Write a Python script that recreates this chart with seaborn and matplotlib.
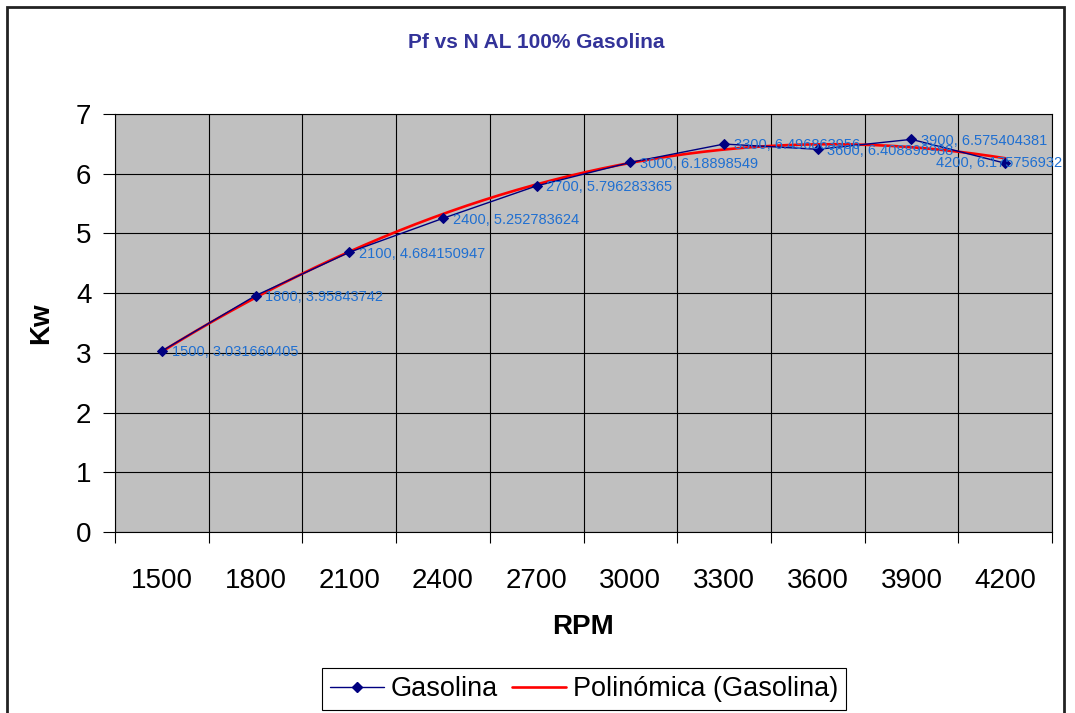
import numpy as np
import pandas as pd
import matplotlib
matplotlib.use("Agg")
import matplotlib.pyplot as plt
import matplotlib.patches as mpatches
from matplotlib.lines import Line2D
import seaborn as sns

# ---- data ----
rpm = [1500, 1800, 2100, 2400, 2700, 3000, 3300, 3600, 3900, 4200]
kw = [3.031660405, 3.95843742, 4.684150947, 5.252783624, 5.796283365,
      6.18898549, 6.496863956, 6.408898988, 6.575404381, 6.175756932]
point_labels = ["1500, 3.031660405", "1800, 3.95843742", "2100, 4.684150947",
                "2400, 5.252783624", "2700, 5.796283365", "3000, 6.18898549",
                "3300, 6.496863956", "3600, 6.408898988", "3900, 6.575404381",
                "4200, 6.175756932"]
y_ticks = [0, 1, 2, 3, 4, 5, 6, 7]
title = "Pf vs N AL 100% Gasolina"
poly_order = 2

sns.set_theme(style="white")
plt.rcParams['font.family'] = ['Liberation Sans', 'DejaVu Sans']
plt.rcParams['text.color'] = 'black'
plt.rcParams['axes.labelcolor'] = 'black'
plt.rcParams['xtick.color'] = 'black'
plt.rcParams['ytick.color'] = 'black'

fig = plt.figure(figsize=(10.75, 7.13), dpi=100)
ax = fig.add_axes([115/1075, 1-532/713, (1052-115)/1075, (532-114)/713])
ax.set_facecolor('#C0C0C0')

idx = np.arange(len(rpm))
df = pd.DataFrame({"idx": idx, "kw": kw})

# trendline
coef = np.polyfit(idx, kw, poly_order)
xs = np.linspace(idx[0], idx[-1], 300)
ax.plot(xs, np.polyval(coef, xs), color='#FF0000', lw=1.9, zorder=3)

sns.lineplot(data=df, x="idx", y="kw", ax=ax, color='#000080', lw=1.0,
             marker='D', markersize=5, markeredgecolor='#000080', zorder=4)

for i, (v, lab) in enumerate(zip(kw, point_labels)):
    if i == len(kw) - 1:
        ax.annotate(lab, (i, v), xytext=(41, 0), textcoords='offset points',
                    ha='right', va='center', fontsize=10.5, color='#1F6FD1', zorder=5)
    else:
        ax.annotate(lab, (i, v), xytext=(7, -1), textcoords='offset points',
                    ha='left', va='center', fontsize=10.5, color='#1F6FD1', zorder=5)

ax.set_xlim(-0.5, len(rpm) - 0.5)
ax.set_ylim(0, 7)
ax.set_xticks(np.arange(-0.5, len(rpm), 1.0))
ax.set_xticklabels([])
ax.set_xticks(idx, minor=True)
ax.set_xticklabels([str(r) for r in rpm], minor=True, fontsize=20)
ax.tick_params(axis='x', which='major', length=8, width=0.8, color='black', direction='out', bottom=True)
ax.tick_params(axis='x', which='minor', length=0, pad=26, labelcolor='black')
ax.set_yticks(y_ticks)
ax.set_yticklabels([str(t) for t in y_ticks], fontsize=20)
ax.tick_params(axis='y', length=9, width=0.8, color='black', direction='out', left=True, pad=8,
               labelcolor='black')
ax.grid(True, which='major', color='black', lw=0.8)
ax.set_axisbelow(True)
for s in ax.spines.values():
    s.set_color('black')
    s.set_linewidth(0.8)

ax.set_xlabel("RPM", fontsize=20, fontweight='bold', labelpad=14, color='black')
ax.set_ylabel("Kw", fontsize=20, fontweight='bold', labelpad=16, color='black')
fig.text(536/1075, 1-43/713, title, ha='center', va='center', fontsize=15,
         fontweight='bold', color='#333399')

handles = [Line2D([0], [0], color='#000080', lw=1.0, marker='D', markersize=5),
           Line2D([0], [0], color='#FF0000', lw=1.9)]
leg = fig.legend(handles, ["Gasolina", "Polinómica (Gasolina)"], loc='upper center',
                 bbox_to_anchor=(584/1075, 1-668/713), ncol=2, fontsize=19.5,
                 frameon=True, fancybox=False, edgecolor='black', framealpha=1,
                 handlelength=2.0, handletextpad=0.25, columnspacing=0.5,
                 borderpad=0.3, borderaxespad=0)
leg.get_frame().set_linewidth(0.8)
for t in leg.get_texts():
    t.set_color('black')

fig.patches.append(mpatches.Rectangle((7/1075, -0.1), (1064-7)/1075, 1.1 - 7/713,
                                      transform=fig.transFigure, fill=False,
                                      edgecolor='#222222', lw=2))

fig.savefig("out.png", dpi=100)
